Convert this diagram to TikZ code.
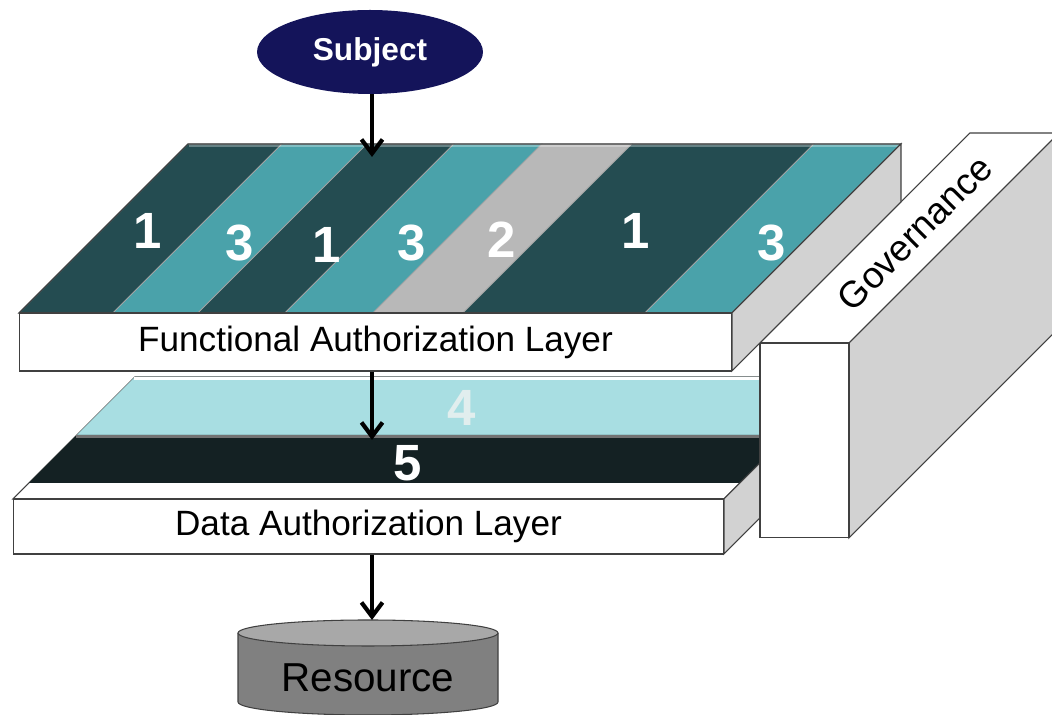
\documentclass[tikz,border=0pt]{standalone}
\usepackage{fontspec}
\setmainfont{Liberation Sans}
\usetikzlibrary{shapes.geometric,arrows.meta}
\definecolor{tealdark}{RGB}{36,76,81}
\definecolor{tealmid}{RGB}{74,162,170}
\definecolor{stripegrey}{RGB}{184,184,184}
\definecolor{bandlight}{RGB}{168,222,226}
\definecolor{banddark}{RGB}{20,33,35}
\definecolor{navy}{RGB}{20,20,90}
\definecolor{sidegrey}{RGB}{210,210,210}
\definecolor{cylside}{RGB}{128,128,128}
\definecolor{cyltop}{RGB}{168,168,168}
\definecolor{paleno}{RGB}{225,238,238}

\begin{document}
\begin{tikzpicture}[x=0.02cm,y=0.02cm,
  face/.style={draw=black!75,line width=0.6pt},
  stripe/.style={draw=black!35,line width=0.4pt},
  num/.style={text=white,font=\bfseries\fontsize{29}{30}\selectfont},
  lbl/.style={font=\fontsize{20}{22}\selectfont},
  flow/.style={line width=2.4pt,-{Straight Barb[length=8pt,width=12pt]}}]
\useasboundingbox (0,0) rectangle (1052,715);
\clip (0,0) rectangle (1052,715);

\draw [face,fill=white] (13,216) -- (724,216) -- (846,338) -- (135,338) -- cycle;
\fill [bandlight] (135,338) -- (846,338) -- (788,280) -- (77,280) -- cycle;
\fill [banddark] (77,280) -- (788,280) -- (740,232) -- (29,232) -- cycle;
\draw [white,line width=1.2pt] (134,336.5) -- (846,336.5);
\draw [black!55,line width=1.2pt] (76,278.5) -- (788,278.5);
\draw [face,fill=sidegrey] (724,216) -- (846,338) -- (846,283) -- (724,161) -- cycle;
\node [face,fill=white,minimum width=14.22cm,minimum height=1.1cm,lbl] (dal) at (368.5,188.5) {Data Authorization Layer};
\node [num,text=paleno] (n4) at (462,307) {4};
\node [num] (n5) at (408,252) {5};

\draw [face,fill=sidegrey] (849,372) -- (1059,582) -- (1059,387) -- (849,177) -- cycle;
\draw [face,fill=white] (760,372) -- (849,372) -- (1059,582) -- (970,582) -- cycle;
\node [face,fill=white,minimum width=1.78cm,minimum height=3.9cm] (gov) at (804.5,274.5) {};
\node [font=\fontsize{21}{23}\selectfont,rotate=45] (govlbl) at (915,482) {Governance};

\fill [stripe,fill=tealdark] (19,402) -- (113,402) -- (282,571) -- (188,571) -- cycle;
\fill [stripe,fill=tealmid] (113,402) -- (198,402) -- (367,571) -- (282,571) -- cycle;
\fill [stripe,fill=tealdark] (198,402) -- (285,402) -- (454,571) -- (367,571) -- cycle;
\fill [stripe,fill=tealmid] (285,402) -- (373,402) -- (542,571) -- (454,571) -- cycle;
\fill [stripe,fill=stripegrey] (373,402) -- (463,402) -- (632,571) -- (542,571) -- cycle;
\fill [stripe,fill=tealdark] (463,402) -- (645,402) -- (814,571) -- (632,571) -- cycle;
\fill [stripe,fill=tealmid] (645,402) -- (732,402) -- (901,571) -- (814,571) -- cycle;
\draw [white,opacity=0.3,line width=1.5pt] (189,569.5) -- (900,569.5);
\draw [face] (19,402) -- (732,402) -- (901,571) -- (188,571) -- cycle;
\draw [face,fill=sidegrey] (732,402) -- (901,571) -- (901,513) -- (732,344) -- cycle;
\node [face,fill=white,minimum width=14.26cm,minimum height=1.16cm,lbl] (fal) at (375.5,373) {Functional Authorization Layer};
\node [num] (s1) at (148,484) {1};
\node [num] (s2) at (240,472) {3};
\node [num] (s3) at (327,470) {1};
\node [num] (s4) at (412,472) {3};
\node [num] (s5) at (502,475) {2};
\node [num] (s6) at (636,484) {1};
\node [num] (s7) at (772,472) {3};

\fill [cylside] (238,82) -- (238,13) arc [start angle=180,end angle=360,x radius=130,y radius=13] -- (498,82) -- cycle;
\draw [face] (238,82) -- (238,13) arc [start angle=180,end angle=360,x radius=130,y radius=13] -- (498,82);
\draw [face,fill=cyltop] (368,82) ellipse [x radius=130,y radius=13];
\node [font=\fontsize{23}{25}\selectfont] (res) at (368,37) {Resource};

\node [ellipse,fill=navy,minimum width=4.52cm,minimum height=1.68cm,inner sep=0pt,text=white,font=\bfseries\fontsize{18}{20}\selectfont] (subj) at (370,663) {Subject};

\coordinate (ftop) at (372,558);
\coordinate (dtop) at (372,275);
\coordinate (rtop) at (372,95);
\draw [flow] (subj.south -| ftop) -- (ftop);
\draw [flow] (fal.south -| dtop) -- (dtop);
\draw [flow] (dal.south -| rtop) -- (rtop);
\end{tikzpicture}
\end{document}
